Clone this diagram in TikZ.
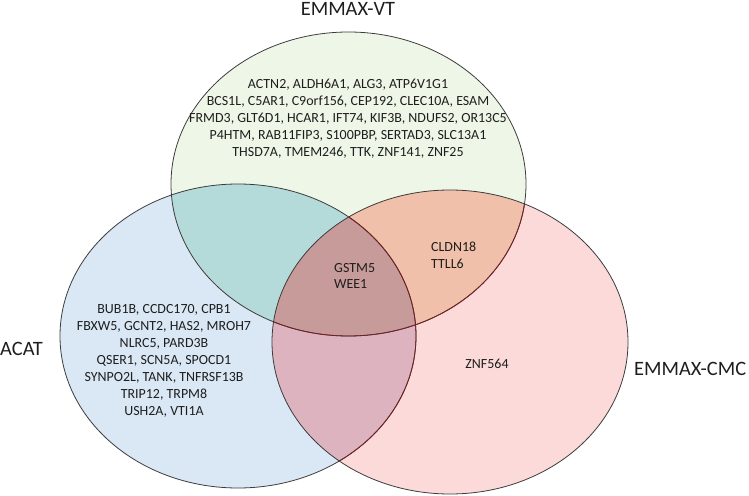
\documentclass[tikz,border=0pt]{standalone}
\usepackage{fontspec}
\setmainfont{Carlito}
\definecolor{gonly}{RGB}{238,246,231}
\definecolor{bonly}{RGB}{218,232,245}
\definecolor{ponly}{RGB}{253,218,218}
\definecolor{gb}{RGB}{180,218,218}
\definecolor{gp}{RGB}{240,192,170}
\definecolor{bp}{RGB}{220,179,191}
\definecolor{gbp}{RGB}{200,155,155}
\definecolor{edge}{RGB}{60,60,60}
\definecolor{edgered}{RGB}{120,30,35}
\definecolor{txt}{RGB}{30,30,30}
\begin{document}
\begin{tikzpicture}[x=1bp,y=-1bp,
  genes/.style={font=\fontsize{14}{17}\selectfont, text=txt, inner sep=0pt},
  setlabel/.style={font=\fontsize{20.5}{24}\selectfont, text=txt, inner sep=0pt},
  rim/.style={line width=0.8bp}]
\useasboundingbox (0,0) rectangle (749,496);
\def\green{(348.5,184) ellipse [x radius=177.5bp, y radius=152bp]}
\def\blue{(238,336) ellipse [x radius=178bp, y radius=152bp]}
\def\pink{(450,342) ellipse [x radius=178bp, y radius=152bp]}
% single regions
\fill[bonly] \blue;
\fill[gonly] \green;
\fill[ponly] \pink;
% pairwise overlaps
\begin{scope}\clip \green; \fill[gb] \blue; \end{scope}
\begin{scope}\clip \green; \fill[gp] \pink; \end{scope}
\begin{scope}\clip \blue; \fill[bp] \pink; \end{scope}
\begin{scope}\clip \green; \clip \blue; \fill[gbp] \pink; \end{scope}
% outlines
\draw[rim, edge] \green;
\draw[rim, edge] \blue;
\begin{scope}\clip \pink;
  \draw[rim, edgered] \green;
  \draw[rim, edgered] \blue;
\end{scope}
\draw[rim, edge] \pink;
% set labels
\node[setlabel, anchor=base] (lvt) at (348,16) {EMMAX-VT};
\node[setlabel, anchor=base west] (lacat) at (0,355) {ACAT};
\node[setlabel, anchor=base west] (lcmc) at (634,375) {EMMAX-CMC};
% gene lists
\node[genes, align=center] (vt) at (348,119) {ACTN2, ALDH6A1, ALG3, ATP6V1G1\\
BCS1L, C5AR1, C9orf156, CEP192, CLEC10A, ESAM\\
FRMD3, GLT6D1, HCAR1, IFT74, KIF3B, NDUFS2, OR13C5\\
P4HTM, RAB11FIP3, S100PBP, SERTAD3, SLC13A1\\
THSD7A, TMEM246, TTK, ZNF141, ZNF25};
\node[genes, align=center] (acat) at (164,361) {BUB1B, CCDC170, CPB1\\
FBXW5, GCNT2, HAS2, MROH7\\
NLRC5, PARD3B\\
QSER1, SCN5A, SPOCD1\\
SYNPO2L, TANK, TNFRSF13B\\
TRIP12, TRPM8\\
USH2A, VTI1A};
\node[genes, align=left, anchor=west] (all) at (334,276) {GSTM5\\WEE1};
\node[genes, align=left, anchor=west] (vtcmc) at (431,255) {CLDN18\\TTLL6};
\node[genes] (cmc) at (487,364) {ZNF564};
\end{tikzpicture}
\end{document}
